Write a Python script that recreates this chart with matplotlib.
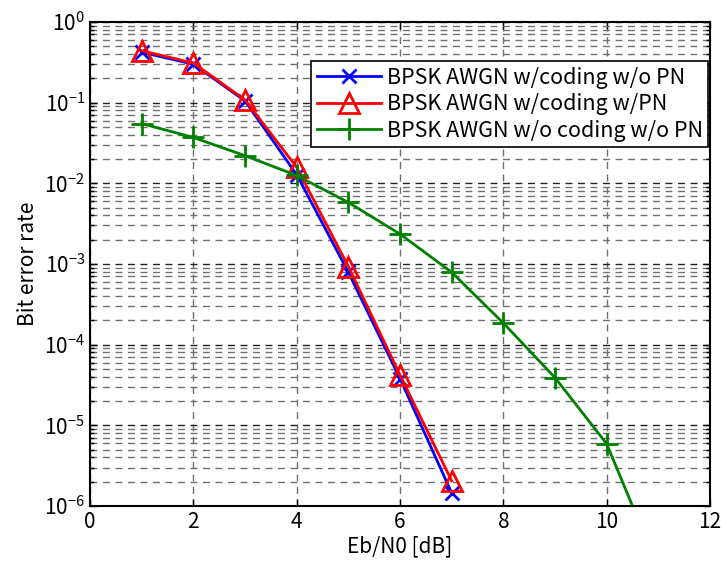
import numpy as np
import matplotlib
matplotlib.use('Agg')
import matplotlib.pyplot as plt
from matplotlib.ticker import NullFormatter

plt.rcParams['font.family'] = ['Noto Sans CJK JP', 'DejaVu Sans']
plt.rcParams['mathtext.fontset'] = 'custom'
plt.rcParams['mathtext.rm'] = 'Noto Sans CJK JP'

# Eb/N0 values [dB]
ebn0_coded = [1, 2, 3, 4, 5, 6, 7]
ebn0_uncoded = [1, 2, 3, 4, 5, 6, 7, 8, 9, 10, 11]

# bit error rates
ber_coded_nopn = [0.42, 0.30, 0.105, 0.0128, 7.9e-4, 3.8e-5, 1.45e-6]
ber_coded_pn = [0.44, 0.31, 0.108, 0.0158, 9.3e-4, 4.2e-5, 2.05e-6]
ber_uncoded = [0.055, 0.037, 0.022, 0.0125, 5.8e-3, 2.35e-3, 7.9e-4,
               1.85e-4, 3.9e-5, 5.9e-6, 1.7e-7]

labels = ['BPSK AWGN w/coding w/o PN',
          'BPSK AWGN w/coding w/PN',
          'BPSK AWGN w/o coding w/o PN']

# decades on the y axis
decades = [-6, -5, -4, -3, -2, -1, 0]

fig = plt.figure(figsize=(7.22, 5.63), dpi=100)
ax = fig.add_axes([0.1247, 0.1012, 0.8587, 0.8598])

ax.semilogy(ebn0_coded, ber_coded_nopn, color='#0000ff', lw=2,
            marker='x', ms=10, mew=2, label=labels[0])
ax.semilogy(ebn0_coded, ber_coded_pn, color='#ff0000', lw=2,
            marker='^', ms=14, mew=2, mfc='none', label=labels[1])
ax.semilogy(ebn0_uncoded, ber_uncoded, color='#008000', lw=2,
            marker='+', ms=16, mew=2, label=labels[2])

ax.set_xlim(0, 12)
ax.set_ylim(1e-6, 1)
ax.set_xticks(range(0, 13, 2))
ax.set_yticks([10.0 ** d for d in decades],
              [r'$10^{%d}$' % d for d in decades])
minor = [m * 10.0 ** d for d in decades[:-1] for m in range(2, 10)]
ax.set_yticks(minor, minor=True)
ax.yaxis.set_minor_formatter(NullFormatter())

ax.grid(True, which='major', axis='x', ls=(0, (5, 4)), color='#707070', lw=1)
ax.grid(True, which='major', axis='y', ls=(0, (5, 4)), color='#202020', lw=1)
ax.grid(True, which='minor', axis='y', ls=(0, (5, 4)), color='#707070', lw=1)

ax.tick_params(which='both', direction='in', top=True, right=True,
               labelsize=15, width=1)
ax.tick_params(which='major', length=5)
ax.tick_params(which='minor', length=3)
for s in ax.spines.values():
    s.set_linewidth(1.5)

ax.set_xlabel('Eb/N0 [dB]', fontsize=15, labelpad=2)
ax.set_ylabel('Bit error rate', fontsize=15, labelpad=4)

leg = ax.legend(loc='upper right', bbox_to_anchor=(0.997, 0.919),
                fontsize=15.5, fancybox=False, framealpha=1,
                edgecolor='black', borderpad=0.25, labelspacing=0.22,
                handlelength=3.0, handletextpad=0.25, borderaxespad=0)
leg.get_frame().set_linewidth(1.2)

fig.savefig('out.png', dpi=100)
